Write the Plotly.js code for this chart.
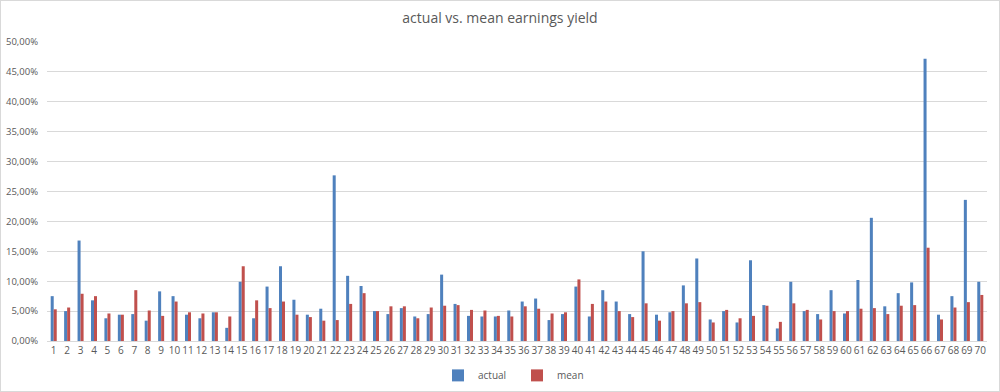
<!DOCTYPE html>
<html>
<head>
<meta charset="utf-8">
<script src="https://cdn.plot.ly/plotly-3.0.1.min.js"></script>
<style>
html,body{margin:0;padding:0;background:#fff;}
#wrap{position:absolute;left:0;top:0;width:998px;height:390px;border:1px solid #d9d9d9;}
#chart{width:998px;height:390px;}
</style>
</head>
<body>
<div id="wrap"><div id="chart"></div></div>
<script>
const categories = Array.from({length:70},(_,i)=>String(i+1));
const actual = [7.5,5.0,16.8,6.8,3.8,4.4,4.5,3.4,8.3,7.5,4.4,3.8,4.8,2.2,9.9,3.8,9.1,12.5,6.9,4.4,
5.4,27.7,10.9,9.2,5.0,4.5,5.5,4.1,4.5,11.1,6.2,4.2,4.1,4.1,5.1,6.6,7.1,3.5,4.5,9.1,
4.1,8.5,6.6,4.5,15.0,4.4,4.8,9.3,13.8,3.6,5.0,3.1,13.5,6.0,2.1,9.9,5.0,4.5,8.5,4.6,
10.2,20.6,5.8,8.0,9.8,47.2,4.4,7.5,23.6,9.9];
const mean = [5.3,5.6,7.9,7.5,4.6,4.4,8.5,5.1,4.2,6.6,4.8,4.6,4.8,4.1,12.5,6.8,5.5,6.6,4.4,4.0,
3.4,3.5,6.2,8.0,5.0,5.8,5.8,3.8,5.6,5.9,6.0,5.2,5.1,4.2,4.1,5.8,5.4,4.6,4.8,10.3,
6.2,6.6,5.0,4.0,6.3,3.4,5.0,6.3,6.5,3.1,5.2,3.8,4.2,5.9,3.2,6.3,5.2,3.6,5.0,5.0,
5.4,5.5,4.5,5.9,6.0,15.6,3.6,5.6,6.5,7.7];
const seriesNames = ['actual','mean'];

const toFrac = a => a.map(v => v/100);
const data = [
  {type:'bar', name:seriesNames[0], x:categories, y:toFrac(actual), marker:{color:'#4F81BD'}},
  {type:'bar', name:seriesNames[1], x:categories, y:toFrac(mean), marker:{color:'#C0504D'}}
];
const fnt = {family:'"Open Sans", "Liberation Sans", sans-serif', color:'#595959'};
const layout = {
  width:998, height:390,
  margin:{l:46, r:12, t:41, b:50, pad:0, autoexpand:false},
  paper_bgcolor:'#fff', plot_bgcolor:'#fff',
  separators:',.',
  barmode:'group', bargap:0.55, bargroupgap:0,
  title:{text:'actual vs. mean earnings yield', x:0.5, xanchor:'center', y:0.955, yanchor:'middle',
         font:{...fnt, size:14}},
  xaxis:{type:'category', tickfont:{...fnt, size:10}, showline:true, linecolor:'#d9d9d9', linewidth:1,
         ticks:'', showgrid:false, tickangle:0, automargin:false},
  yaxis:{range:[0,0.5], dtick:0.05, tickformat:'.2%', tickfont:{...fnt, size:9.5},
         gridcolor:'#d9d9d9', gridwidth:1, zeroline:false, showline:false, ticks:'',
         ticklabelstandoff:8, automargin:false},
  showlegend:true,
  legend:{orientation:'h', x:0.5, xanchor:'center', y:-0.115, yanchor:'middle',
          font:{...fnt, size:10}, itemwidth:30, entrywidth:34, entrywidthmode:'pixels', traceorder:'normal'}
};
Plotly.newPlot('chart', data, layout, {displayModeBar:false, staticPlot:true});
</script>
</body>
</html>
